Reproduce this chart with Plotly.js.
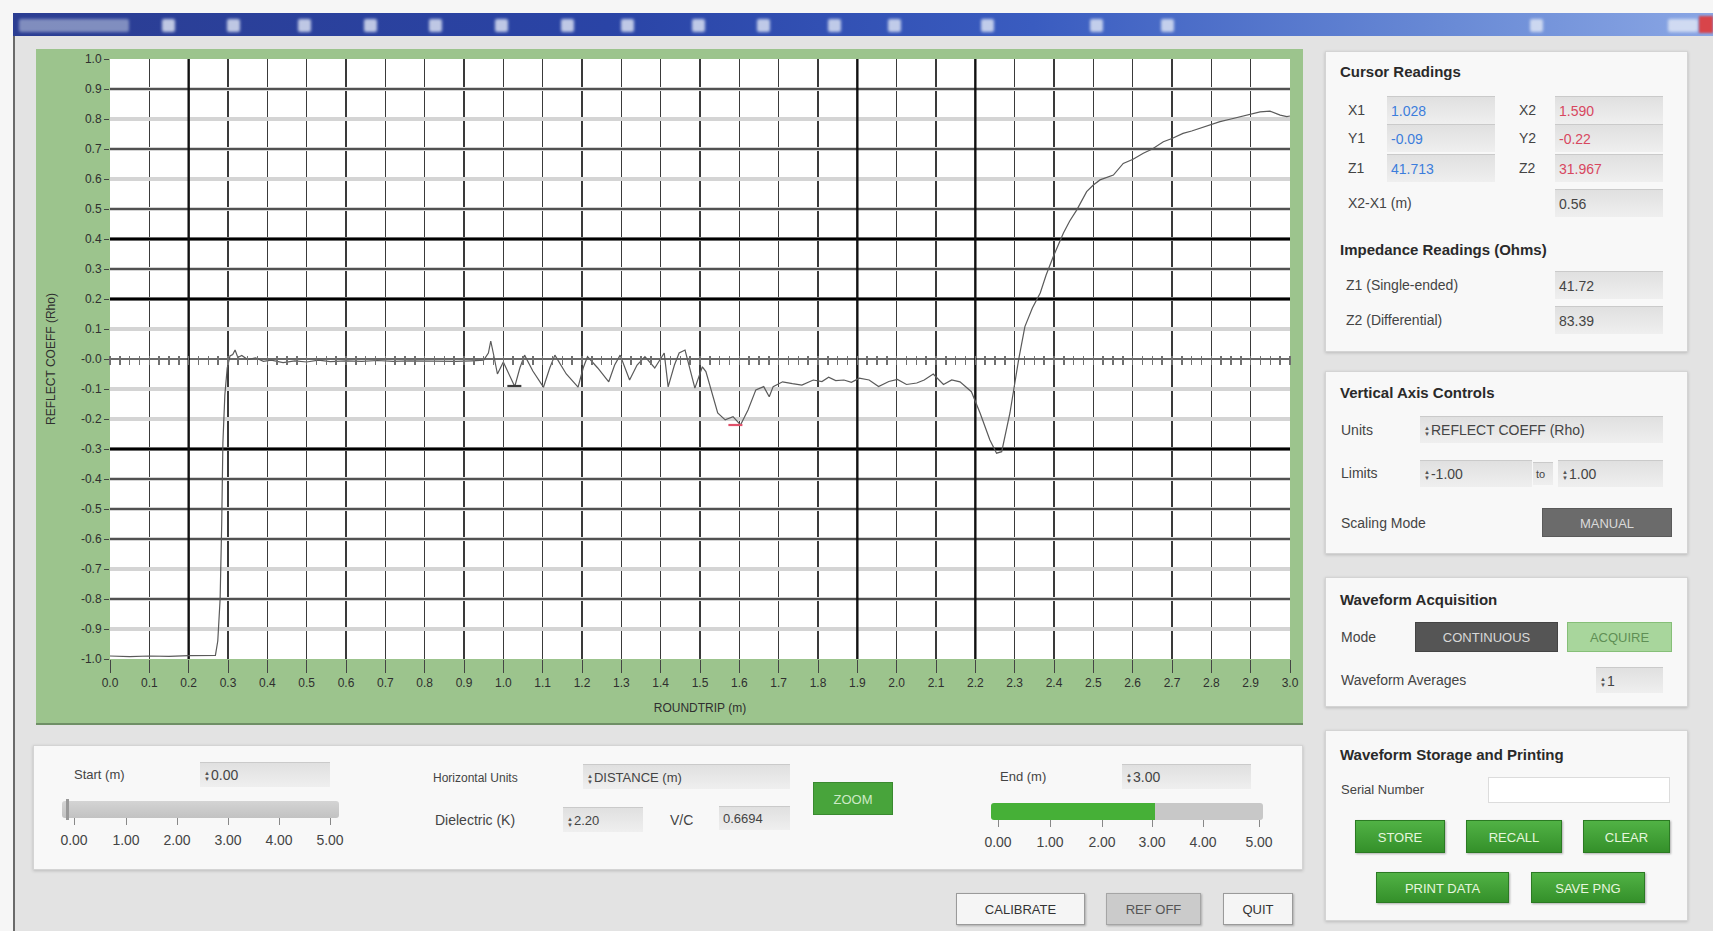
<!DOCTYPE html>
<html><head><meta charset="utf-8">
<script src="https://cdn.plot.ly/plotly-3.0.1.min.js"></script>
<style>
html,body{margin:0;padding:0;}
body{width:1713px;height:931px;position:relative;overflow:hidden;background:#f6f6f6;font-family:"Liberation Sans",Arial,sans-serif;color:#333;}
.win{position:absolute;left:13px;top:13px;width:1700px;height:918px;background:#e3e3e3;border-left:2px solid #6a6a6a;box-sizing:border-box;}
.tbar{position:absolute;left:13px;top:13px;width:1700px;height:23px;background:linear-gradient(to right,#2b3d92 0%,#2a44a6 35%,#3a5cc0 60%,#6a8bd6 85%,#8aa6e4 100%);}
.ico{position:absolute;top:6px;height:13px;width:13px;background:#e3e9f6;border-radius:2px;filter:blur(1.4px);opacity:.8}
.panel{position:absolute;background:#f8f8f8;border:1px solid #d4d4d4;box-shadow:0 1px 3px rgba(0,0,0,.18);box-sizing:border-box;}
.lbl{position:absolute;white-space:nowrap;font-size:14px;color:#444;line-height:16px;}
.hdr{position:absolute;white-space:nowrap;font-size:15px;font-weight:bold;color:#2a2a2a;line-height:18px;}
.fld{position:absolute;background:linear-gradient(#e0e0e0,#efefef);border-top:1px solid #cacaca;box-sizing:border-box;font-size:14px;padding-left:4px;white-space:nowrap;color:#444;}
.btn{position:absolute;box-sizing:border-box;text-align:center;font-size:13px;white-space:nowrap;}
.gbtn{background:linear-gradient(#51b245,#34902a);border:1px solid #2b7a23;color:#e6f6de;box-shadow:1px 1px 2px rgba(0,0,0,.3);}
.spin{display:inline-block;font-size:6px;line-height:6px;vertical-align:middle;color:#555;margin-right:1px;text-align:center;}
.tick{position:absolute;width:1px;height:7px;background:#888;}
#plot{position:absolute;left:36px;top:49px;width:1267px;height:674px;border-bottom:2px solid #6f8f66;}
</style></head>
<body>
<div class="win"></div>
<div class="tbar" id="tbar"></div>
<div id="plot"></div>
<div id="ui"></div>
<script>
// ---------------- DATA ----------------
// Waveform: roundtrip distance (m)
const wfX = [0.00,0.05,0.10,0.15,0.20,0.25,0.268,0.274,0.280,0.284,0.287,0.292,0.298,0.305,0.312,0.318,0.325,0.335,0.35,0.37,0.39,0.41,0.44,0.47,0.50,0.53,0.56,0.60,0.64,0.68,0.72,0.76,0.80,0.84,0.88,0.92,0.95,0.962,0.968,0.976,0.985,1.000,1.015,1.029,1.042,1.054,1.075,1.102,1.118,1.131,1.16,1.19,1.203,1.214,1.24,1.268,1.283,1.297,1.321,1.34,1.36,1.385,1.409,1.419,1.435,1.447,1.462,1.487,1.506,1.515,1.545,1.564,1.584,1.603,1.622,1.642,1.662,1.676,1.686,1.71,1.735,1.759,1.788,1.81,1.827,1.845,1.866,1.885,1.905,1.93,1.954,1.98,2.002,2.025,2.051,2.07,2.093,2.119,2.14,2.161,2.19,2.212,2.237,2.254,2.267,2.288,2.31,2.326,2.345,2.365,2.38,2.398,2.424,2.44,2.458,2.483,2.50,2.517,2.551,2.576,2.601,2.627,2.65,2.678,2.70,2.728,2.75,2.771,2.80,2.822,2.85,2.873,2.90,2.924,2.949,2.975,2.992,3.0];
// Waveform: reflection coefficient (Rho)
const wfY = [-0.990,-0.992,-0.990,-0.991,-0.989,-0.990,-0.988,-0.94,-0.80,-0.55,-0.28,-0.12,-0.03,0.01,0.015,0.03,0.005,0.012,-0.002,0.004,-0.008,-0.004,-0.012,-0.006,-0.010,-0.004,-0.009,-0.006,-0.008,-0.005,-0.008,-0.006,-0.007,-0.006,-0.008,-0.006,-0.004,0.02,0.06,0.01,-0.05,-0.01,-0.05,-0.092,-0.03,0.013,-0.04,-0.094,-0.03,0.013,-0.05,-0.094,-0.03,0.008,-0.03,-0.076,-0.02,0.013,-0.07,-0.02,0.008,-0.03,0.02,-0.093,-0.02,0.02,0.03,-0.097,-0.026,-0.042,-0.18,-0.203,-0.192,-0.22,-0.17,-0.103,-0.092,-0.126,-0.092,-0.076,-0.082,-0.087,-0.07,-0.075,-0.061,-0.072,-0.07,-0.078,-0.064,-0.07,-0.092,-0.075,-0.068,-0.085,-0.08,-0.07,-0.05,-0.085,-0.07,-0.076,-0.109,-0.18,-0.27,-0.314,-0.309,-0.18,-0.003,0.108,0.17,0.22,0.28,0.341,0.42,0.46,0.497,0.558,0.58,0.597,0.613,0.652,0.666,0.686,0.70,0.724,0.735,0.752,0.76,0.769,0.78,0.791,0.80,0.808,0.815,0.824,0.826,0.813,0.808,0.81];

// Cursor readings
const cursorX = [1.028, 1.590];
const cursorY = [-0.09, -0.22];
const cursorZ = ['41.713', '31.967'];
const cursorDelta = '0.56';
const impedance = ['41.72', '83.39'];

// Axis tick labels
const xTickVals = [0,0.1,0.2,0.3,0.4,0.5,0.6,0.7,0.8,0.9,1.0,1.1,1.2,1.3,1.4,1.5,1.6,1.7,1.8,1.9,2.0,2.1,2.2,2.3,2.4,2.5,2.6,2.7,2.8,2.9,3.0];
const xTickLabels = ['0.0','0.1','0.2','0.3','0.4','0.5','0.6','0.7','0.8','0.9','1.0','1.1','1.2','1.3','1.4','1.5','1.6','1.7','1.8','1.9','2.0','2.1','2.2','2.3','2.4','2.5','2.6','2.7','2.8','2.9','3.0'];
const yTickVals = [1.0,0.9,0.8,0.7,0.6,0.5,0.4,0.3,0.2,0.1,0,-0.1,-0.2,-0.3,-0.4,-0.5,-0.6,-0.7,-0.8,-0.9,-1.0];
const yTickLabels = ['1.0','0.9','0.8','0.7','0.6','0.5','0.4','0.3','0.2','0.1','-0.0','-0.1','-0.2','-0.3','-0.4','-0.5','-0.6','-0.7','-0.8','-0.9','-1.0'];
const sliderLabels = ['0.00','1.00','2.00','3.00','4.00','5.00'];
const xRange = [0, 3];
const yRange = [-1, 1];

// Grid styling (which grid lines render darker)
const darkGridY = [0.9,0.7,0.5,0.3,-0.4,-0.5,-0.6,-0.8];
const thickGridY = [0.4,0.2,-0.3];
const thickGridX = [0.2,1.9,2.2];

// ---------------- CHART ----------------
const shapes = [];
darkGridY.forEach(v => shapes.push({type:'line',xref:'x',x0:xRange[0],x1:xRange[1],yref:'y',y0:v,y1:v,layer:'between',line:{color:'#262626',width:1.6}}));
thickGridY.forEach(v => shapes.push({type:'line',xref:'x',x0:xRange[0],x1:xRange[1],yref:'y',y0:v,y1:v,layer:'between',line:{color:'#000000',width:2.8}}));
thickGridX.forEach(v => shapes.push({type:'line',yref:'y',y0:yRange[0],y1:yRange[1],xref:'x',x0:v,x1:v,layer:'between',line:{color:'#111111',width:2.4}}));

const traces = [
  {x:wfX, y:wfY, mode:'lines', line:{color:'#5a5a5a', width:1.2}, hoverinfo:'skip'},
  {x:cursorX, y:cursorY, xaxis:'x2', yaxis:'y', mode:'markers', marker:{symbol:'line-ew', size:10, line:{width:2.2, color:['#3a3a3a','#e0506a']}}, hoverinfo:'skip'}
];

const layout = {
  width:1267, height:674,
  margin:{l:74, r:13, t:10, b:64},
  paper_bgcolor:'#9cc48d', plot_bgcolor:'#ffffff',
  font:{family:'"Liberation Sans", Arial, sans-serif', size:12, color:'#2f2f2f'},
  showlegend:false,
  xaxis:{range:xRange, tickmode:'array', tickvals:xTickVals, ticktext:xTickLabels, ticks:'outside', ticklen:13, tickcolor:'#444',
         showgrid:true, gridcolor:'#3a3a3a', gridwidth:1.3, zeroline:false, showline:false, fixedrange:true,
         title:{text:'ROUNDTRIP (m)', standoff:14, font:{size:12, color:'#2f2f2f'}}},
  yaxis:{range:yRange, tickmode:'array', tickvals:yTickVals, ticktext:yTickLabels, ticks:'outside', ticklen:5, tickcolor:'#444',
         showgrid:true, gridcolor:'#d4d4d4', gridwidth:4, zeroline:true, zerolinecolor:'#6a6a6a', zerolinewidth:1.2, showline:false, fixedrange:true,
         title:{text:'REFLECT COEFF (Rho)', standoff:22, font:{size:12, color:'#2f2f2f'}}},
  xaxis2:{overlaying:'x', anchor:'free', position:0.5075, range:xRange, tickmode:'linear', tick0:0, dtick:0.025, ticks:'outside', ticklen:9, tickwidth:1.4, tickcolor:'#707070',
          showticklabels:false, showgrid:false, zeroline:false, showline:false, fixedrange:true},
  shapes:shapes
};
Plotly.newPlot('plot', traces, layout, {staticPlot:true, displayModeBar:false});

// ---------------- UI CHROME ----------------
const ui = document.getElementById('ui');
function el(cls, x, y, w, h, html, style){
  const d = document.createElement('div');
  d.className = cls;
  d.style.left = x+'px'; d.style.top = y+'px';
  if(w!=null) d.style.width = w+'px';
  if(h!=null){ d.style.height = h+'px'; d.style.lineHeight = h+'px'; }
  if(html!=null) d.innerHTML = html;
  if(style) Object.assign(d.style, style);
  ui.appendChild(d);
  return d;
}
function lbl(text, x, cy, style){ return el('lbl', x, cy-8, null, null, text, style); }
function hdr(text, x, cy){ return el('hdr', x, cy-9, null, null, text); }
const SP = '<span class="spin">&#9650;<br>&#9660;</span>';

// title bar icons
const tb = document.getElementById('tbar');
[162,227,298,364,429,495,561,621,692,757,828,888,981,1090,1161,1530].forEach(x=>{
  const d=document.createElement('div'); d.className='ico'; d.style.left=(x-13)+'px'; tb.appendChild(d);
});
(function(){const d=document.createElement('div');d.className='ico';d.style.left='6px';d.style.width='110px';d.style.background='#b9c3dc';d.style.opacity='.6';tb.appendChild(d);
 const c=document.createElement('div');c.className='ico';c.style.left='1655px';c.style.width='30px';tb.appendChild(c);
 const r=document.createElement('div');r.style.cssText='position:absolute;left:1686px;top:3px;width:14px;height:17px;background:#d8444a;filter:blur(1px)';tb.appendChild(r);})();

// right panels
el('panel',1325,51,363,301);
hdr('Cursor Readings',1340,72);
lbl('X1',1348,110); lbl('X2',1519,110);
lbl('Y1',1348,138); lbl('Y2',1519,138);
lbl('Z1',1348,168); lbl('Z2',1519,168);
el('fld',1387,96,108,28,cursorX[0].toFixed(3),{color:'#3c7ddc'});
el('fld',1555,96,108,28,cursorX[1].toFixed(3),{color:'#d8475f'});
el('fld',1387,124,108,28,cursorY[0].toFixed(2),{color:'#3c7ddc'});
el('fld',1555,124,108,28,cursorY[1].toFixed(2),{color:'#d8475f'});
el('fld',1387,154,108,28,cursorZ[0],{color:'#3c7ddc'});
el('fld',1555,154,108,28,cursorZ[1],{color:'#d8475f'});
lbl('X2-X1 (m)',1348,203); el('fld',1555,189,108,28,cursorDelta);
hdr('Impedance Readings (Ohms)',1340,250);
lbl('Z1 (Single-ended)',1346,285); el('fld',1555,271,108,28,impedance[0]);
lbl('Z2 (Differential)',1346,320); el('fld',1555,306,108,28,impedance[1]);

el('panel',1325,371,363,183);
hdr('Vertical Axis Controls',1340,393);
lbl('Units',1341,430); el('fld',1420,416,243,27,SP+'REFLECT COEFF (Rho)');
lbl('Limits',1341,473); el('fld',1420,460,112,27,SP+'-1.00');
el('fld',1533,462,20,23,'to',{fontSize:'11px',paddingLeft:'3px'});
el('fld',1558,460,105,27,SP+'1.00');
lbl('Scaling Mode',1341,523);
el('btn',1542,508,130,29,'MANUAL',{background:'#6b6b6b',color:'#dadada',border:'1px solid #5a5a5a'});

el('panel',1325,577,363,130);
hdr('Waveform Acquisition',1340,600);
lbl('Mode',1341,637);
el('btn',1415,622,143,30,'CONTINUOUS',{background:'#555',color:'#d8d8d8',border:'1px solid #444'});
el('btn',1567,622,105,30,'ACQUIRE',{background:'#a8d69c',color:'#5f8f55',border:'1px solid #86bf78'});
lbl('Waveform Averages',1341,680);
el('fld',1596,667,67,26,SP+'1');

el('panel',1325,730,363,191);
hdr('Waveform Storage and Printing',1340,755);
lbl('Serial Number',1341,790,{fontSize:'13px'});
el('fld',1488,777,182,26,'',{background:'#fff',border:'1px solid #dcdcdc'});
el('btn gbtn',1355,820,90,33,'STORE');
el('btn gbtn',1466,820,96,33,'RECALL');
el('btn gbtn',1583,820,87,33,'CLEAR');
el('btn gbtn',1376,872,133,31,'PRINT DATA');
el('btn gbtn',1531,872,114,31,'SAVE PNG');

// bottom panel
el('panel',33,745,1270,125);
lbl('Start (m)',74,775,{fontSize:'13px'});
el('fld',200,762,130,25,SP+'0.00');
el('',62,801,277,17,'',{position:'absolute',background:'linear-gradient(#d4d4d4,#c2c2c2)',borderRadius:'3px'});
el('',66,799,3,21,'',{position:'absolute',background:'#999'});
const sx1=[74,126,177,228,279,330];
sliderLabels.forEach((s,i)=>{ el('tick',sx1[i],818,null,null,''); el('lbl',sx1[i]-18,832,36,null,s,{textAlign:'center',fontSize:'14px'}); });

lbl('Horizontal Units',433,778,{fontSize:'12px'});
el('fld',583,764,207,25,SP+'DISTANCE (m)',{fontSize:'13px'});
lbl('Dielectric (K)',435,820);
el('fld',563,807,80,25,SP+'2.20',{fontSize:'13px'});
lbl('V/C',670,820);
el('fld',719,806,71,24,'0.6694',{fontSize:'13px'});
el('btn',813,782,80,33,'ZOOM',{background:'#48a43b',color:'#cdeac6',border:'1px solid #3a8a30'});

lbl('End (m)',1000,777,{fontSize:'13px'});
el('fld',1122,764,129,25,SP+'3.00');
el('',991,803,272,17,'',{position:'absolute',background:'linear-gradient(to right,#46b037 0%,#46b037 60.3%,#c8c8c8 60.3%,#c8c8c8 100%)',borderRadius:'3px'});
const sx2=[998,1050,1102,1152,1203,1259];
sliderLabels.forEach((s,i)=>{ el('tick',sx2[i],820,null,null,''); el('lbl',sx2[i]-18,834,36,null,s,{textAlign:'center',fontSize:'14px'}); });

// bottom buttons
el('btn',956,893,129,32,'CALIBRATE',{background:'#f5f5f5',border:'1px solid #9a9a9a',boxShadow:'1px 1px 2px rgba(0,0,0,.25)',color:'#333'});
el('btn',1106,893,95,32,'REF OFF',{background:'#cbcbcb',border:'1px solid #a5a5a5',boxShadow:'1px 1px 2px rgba(0,0,0,.25)',color:'#555'});
el('btn',1223,893,70,32,'QUIT',{background:'#f5f5f5',border:'1px solid #9a9a9a',boxShadow:'1px 1px 2px rgba(0,0,0,.25)',color:'#333'});
</script>
</body></html>
